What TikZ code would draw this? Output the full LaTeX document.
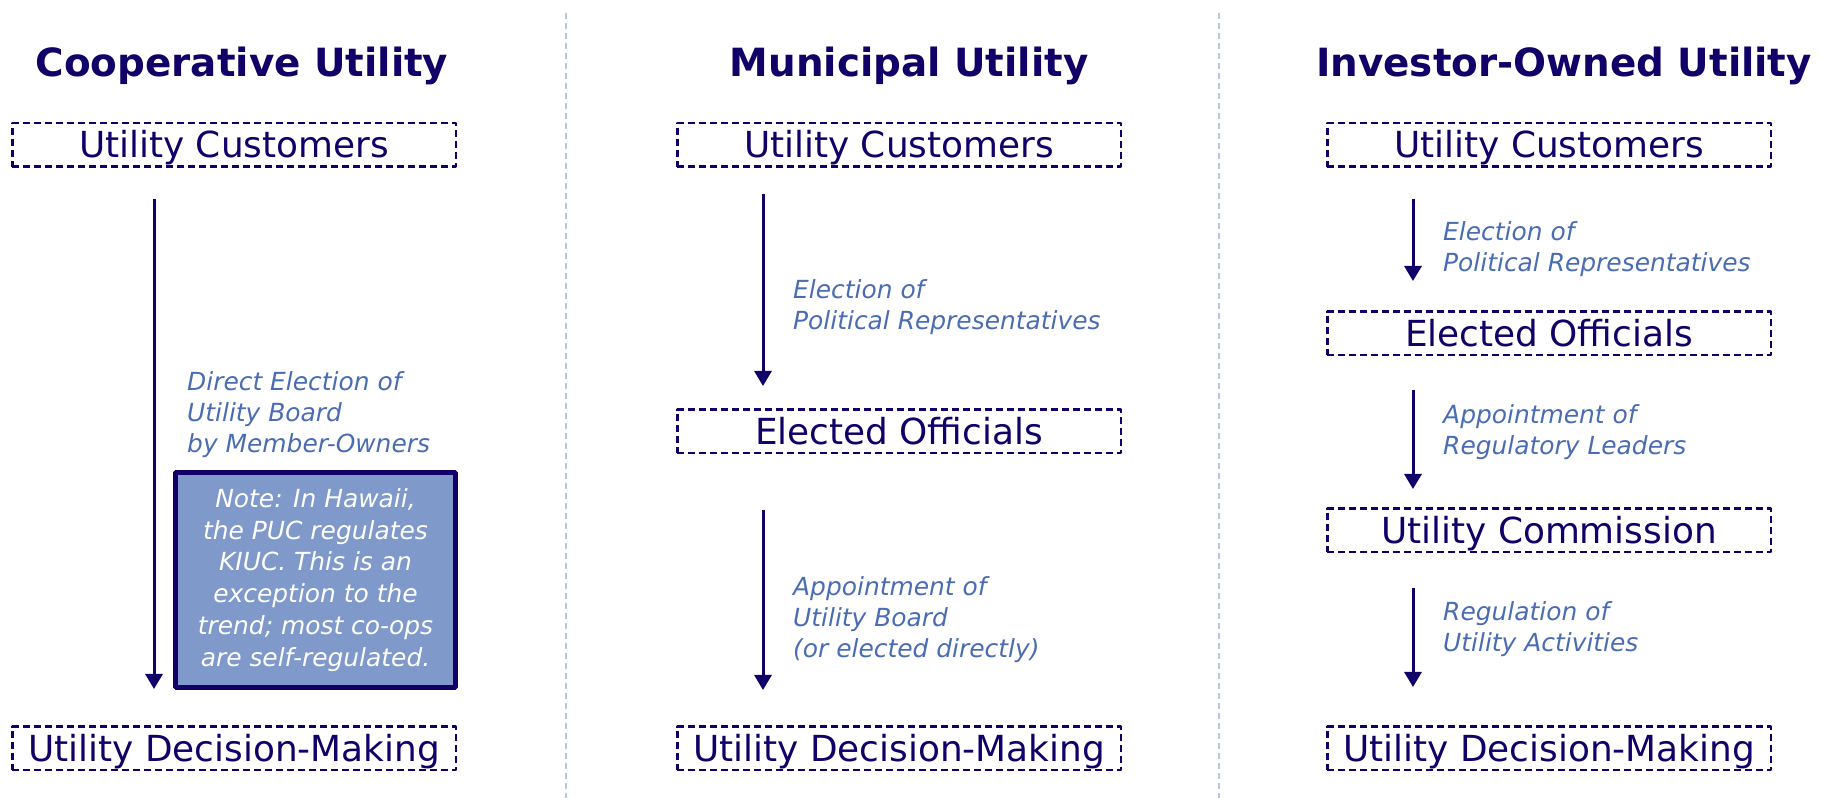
\documentclass[tikz,border=0pt]{standalone}
\usepackage{fontspec}
\setmainfont{DejaVu Sans}
\usetikzlibrary{arrows.meta}
\definecolor{navy}{HTML}{100068}
\definecolor{steel}{HTML}{4A6CB3}
\definecolor{notefill}{HTML}{7F99CB}
\definecolor{rulecol}{HTML}{B5C7DE}
\begin{document}
\begin{tikzpicture}[>={Triangle[width=17bp,length=15bp]},line join=bevel,
    head/.style={font=\fontsize{39}{44}\selectfont\bfseries,text=navy,inner sep=0pt,anchor=base},
    party/.style={draw=navy,dash pattern=on 7bp off 4bp,line width=2.5bp,minimum width=443.5bp,
      minimum height=43.5bp,inner sep=0pt,text=navy,font=\fontsize{36}{40}\selectfont,
      text height=26bp,text depth=0pt},
    flow/.style={->,draw=navy,line width=3bp},
    how/.style={font=\fontsize{25}{31.5}\selectfont\itshape,text=steel,align=left,
      anchor=base west,inner sep=0pt},
    note/.style={draw=navy,line width=5bp,fill=notefill,minimum width=280bp,minimum height=215bp,
      inner sep=0pt,align=center,text=white,font=\fontsize{25}{32}\selectfont\itshape},
    divider/.style={draw=rulecol,line width=1.5bp,dash pattern=on 6bp off 4bp}]
  \useasboundingbox (0bp,0bp) rectangle (1821bp,798bp);
  %% 
  % Column dividers
  \draw [divider] (566bp,785bp) -- (566bp,0bp);
  \draw [divider] (1219bp,785bp) -- (1219bp,0bp);
  %% 
  % Column: cooperative
  \node [head] (titleA) at (242bp,721bp) {Cooperative Utility};
  \node [party] (custA) at (234bp,653bp) {Utility Customers};
  \node [party] (deciA) at (234bp,49.5bp) {Utility Decision-Making};
  \node [note] (noteA) at (315.5bp,218bp) {Note: In Hawaii,\\the PUC regulates\\KIUC. This is an\\exception to the\\trend; most co-ops\\are self-regulated.};
  \coordinate (axA) at (154bp,0bp);
  % Edge: custA -> deciA
  \draw [flow,shorten <=31bp,shorten >=36.5bp] (custA.south -| axA) -- (deciA.north -| axA);
  % (base = last line)
  \node [how] (howA) at (187bp,345bp) {Direct Election of\\Utility Board\\by Member-Owners};
  %% 
  % Column: municipal
  \node [head] (titleB) at (909bp,721bp) {Municipal Utility};
  \node [party] (custB) at (899bp,653bp) {Utility Customers};
  \node [party] (elecB) at (899bp,366.5bp) {Elected Officials};
  \node [party] (deciB) at (899bp,49.5bp) {Utility Decision-Making};
  \coordinate (axB) at (763bp,0bp);
  % Edge: custB -> elecB
  \draw [flow,shorten <=26bp,shorten >=22.5bp] (custB.south -| axB) -- (elecB.north -| axB);
  % Edge: elecB -> deciB
  \draw [flow,shorten <=55.5bp,shorten >=35.5bp] (elecB.south -| axB) -- (deciB.north -| axB);
  \node [how] (howB1) at (793bp,468bp) {Election of\\Political Representatives};
  \node [how] (howB2) at (793bp,140bp) {Appointment of\\Utility Board\\(or elected directly)};
  %% 
  % Column: investor-owned
  \node [head] (titleC) at (1564bp,721bp) {Investor-Owned Utility};
  \node [party] (custC) at (1549bp,653bp) {Utility Customers};
  \node [party] (elecC) at (1549bp,464.5bp) {Elected Officials};
  \node [party] (commC) at (1549bp,267.5bp) {Utility Commission};
  \node [party] (deciC) at (1549bp,49.5bp) {Utility Decision-Making};
  \coordinate (axC) at (1413bp,0bp);
  % Edge: custC -> elecC
  \draw [flow,shorten <=31bp,shorten >=29.5bp] (custC.south -| axC) -- (elecC.north -| axC);
  % Edge: elecC -> commC
  \draw [flow,shorten <=33.5bp,shorten >=18.5bp] (elecC.south -| axC) -- (commC.north -| axC);
  % Edge: commC -> deciC
  \draw [flow,shorten <=34.5bp,shorten >=38.5bp] (commC.south -| axC) -- (deciC.north -| axC);
  \node [how] (howC1) at (1443bp,526bp) {Election of\\Political Representatives};
  \node [how] (howC2) at (1443bp,343bp) {Appointment of\\Regulatory Leaders};
  \node [how] (howC3) at (1443bp,146bp) {Regulation of\\Utility Activities};
  % 
\end{tikzpicture}
\end{document}
